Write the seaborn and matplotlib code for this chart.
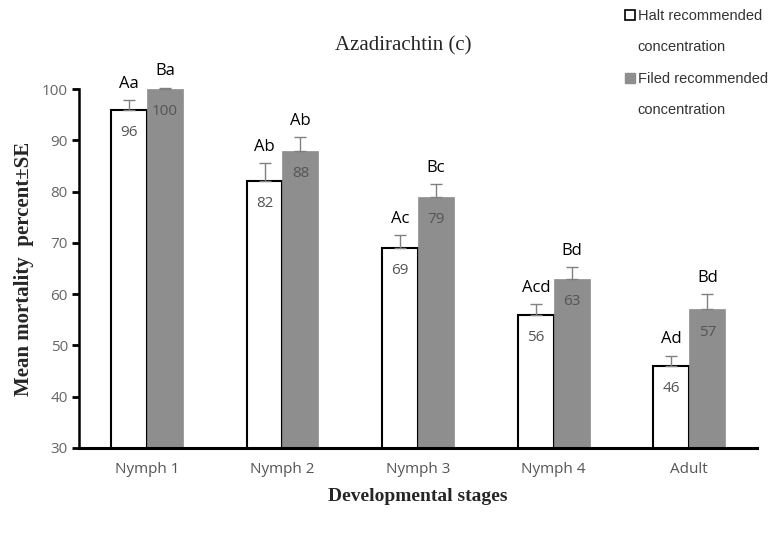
import numpy as np
import pandas as pd
import seaborn as sns
import matplotlib
matplotlib.use("Agg")
import matplotlib.pyplot as plt
from matplotlib.patches import Patch

stages = ["Nymph 1", "Nymph 2", "Nymph 3", "Nymph 4", "Adult"]
series = ["Halt recommended\nconcentration", "Filed recommended\nconcentration"]
half_vals = [96, 82, 69, 56, 46]
filed_vals = [100, 88, 79, 63, 57]
half_se = [1.8, 3.5, 2.5, 2.0, 2.0]
filed_se = [0.3, 2.6, 2.5, 2.2, 3.0]
half_letters = ["Aa", "Ab", "Ac", "Acd", "Ad"]
filed_letters = ["Ba", "Ab", "Bc", "Bd", "Bd"]

df = pd.DataFrame({
    "stage": stages * 2,
    "series": [series[0]] * 5 + [series[1]] * 5,
    "value": half_vals + filed_vals,
    "se": half_se + filed_se,
    "letter": half_letters + filed_letters,
})

sns.set_style("white")
fig = plt.figure(figsize=(7.75, 5.37), dpi=100)
ax = fig.add_axes([0.102, 0.166, 0.875, 0.668])

sns.barplot(data=df, x="stage", y="value", hue="series", order=stages,
            hue_order=series, palette=["white", "#8e8e8e"], width=0.53,
            errorbar=None, ax=ax, legend=False, saturation=1)

patches = [p for p in ax.patches][:10]
for i, p in enumerate(patches):
    if i < 5:
        p.set_edgecolor("black")
        p.set_linewidth(1.5)
    else:
        p.set_edgecolor("#8e8e8e")
        p.set_linewidth(0.5)
    row = df.iloc[i]
    cx = p.get_x() + p.get_width() / 2
    ax.errorbar(cx, row["value"], yerr=[[0], [row["se"]]], fmt="none",
                ecolor="#808080", elinewidth=1, capsize=4, capthick=1,
                clip_on=False, zorder=1)
    ax.text(cx, row["value"] - 4.4, f"{row['value']:d}", ha="center",
            va="center", fontsize=11, color="#555555", family="Open Sans")
    ax.text(cx, row["value"] + row["se"] + 3.2, row["letter"], ha="center",
            va="center", fontsize=12, color="black", family="Open Sans")

ax.set_ylim(30, 100)
ax.set_yticks(range(30, 101, 10))
ax.set_xlim(-0.5, 4.5)
ax.tick_params(axis="y", direction="out", length=5, width=2, color="black",
               labelsize=11, labelcolor="#666666", left=True, pad=3)
ax.tick_params(axis="x", length=0, labelsize=11, labelcolor="#555555", pad=10)
for lab in ax.get_xticklabels() + ax.get_yticklabels():
    lab.set_family("Open Sans")
for s in ["top", "right"]:
    ax.spines[s].set_visible(False)
ax.spines["left"].set_linewidth(1.8)
ax.spines["left"].set_color("black")
ax.spines["bottom"].set_linewidth(2.2)
ax.spines["bottom"].set_color("black")

ax.set_xlabel("Developmental stages", fontsize=14, fontweight="bold",
              family="Liberation Serif", labelpad=8)
ax.set_ylabel("Mean mortality  percent\u00b1SE", fontsize=15,
              fontweight="bold", family="Liberation Serif", labelpad=6)
fig.text(0.52, 0.915, "Azadirachtin (c)", ha="center", va="center",
         fontsize=15, family="Liberation Serif")

handles, labels = [], []
styles = [dict(facecolor="white", edgecolor="black", linewidth=1.2),
          dict(facecolor="#8e8e8e", edgecolor="#8e8e8e")]
for name, st in zip(series, styles):
    first, second = name.split("\n")
    handles += [Patch(**st), Patch(facecolor="none", edgecolor="none")]
    labels += [first, second]
leg = fig.legend(handles, labels, loc="upper left",
                 bbox_to_anchor=(0.79, 1.008), frameon=False,
                 handlelength=0.65, handleheight=0.65, handletextpad=0.2,
                 labelspacing=1.2, labelcolor="#333333",
                 prop={"family": "Liberation Sans", "size": 10.5})

fig.savefig("out.png", dpi=100)
